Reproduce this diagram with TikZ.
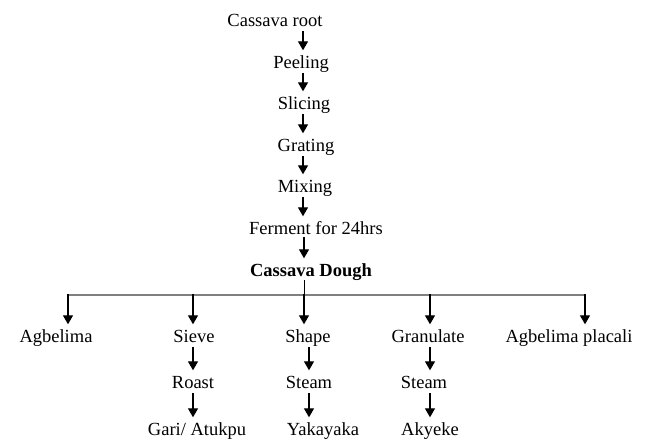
\documentclass[tikz,border=0pt]{standalone}
\usepackage{fontspec}
\setmainfont{Liberation Serif}
\usetikzlibrary{arrows.meta}
\begin{document}
\begin{tikzpicture}[x=1pt,y=-1pt,
  lbl/.style={inner xsep=0pt,inner ysep=0pt,text height=12.5pt,text depth=4pt,anchor=base,font=\fontsize{18.5}{22}\selectfont},
  arr/.style={line width=1.3pt,-{Triangle[width=10pt,length=9pt]},shorten >=5pt,shorten <=1pt},
  bar/.style={line width=1.6pt,draw={rgb,255:red,128;green,128;blue,128}},
  stem/.style={line width=0.8pt}]
\useasboundingbox (0,0) rectangle (655,440);
% spine coordinate
\coordinate (spine) at (303,0);
% main chain
\node[lbl] (root) at (275,26) {Cassava root};
\node[lbl] (peel) at (301,68) {Peeling};
\node[lbl] (slice) at (304,109) {Slicing};
\node[lbl] (grate) at (306,151) {Grating};
\node[lbl] (mix) at (305,192) {Mixing};
\node[lbl] (ferm) at (316,234) {Ferment for 24hrs};
\node[lbl,font=\fontsize{18.5}{22}\selectfont\bfseries] (dough) at (311,276) {Cassava Dough};
% branches row 1
\node[lbl] (agb) at (56,342) {Agbelima};
\node[lbl] (sieve) at (194,342) {Sieve};
\node[lbl] (shape) at (308,342) {Shape};
\node[lbl] (gran) at (428,342) {Granulate};
\node[lbl] (plac) at (569,342) {Agbelima placali};
% row 2
\node[lbl] (roast) at (193,388) {Roast};
\node[lbl] (steamA) at (309,388) {Steam};
\node[lbl] (steamB) at (424,388) {Steam};
% row 3
\node[lbl] (gari) at (197,435) {Gari/ Atukpu};
\node[lbl] (yaka) at (323,435) {Yakayaka};
\node[lbl] (akye) at (430,435) {Akyeke};
% bar coordinates
\coordinate (bL) at (68,295);
\coordinate (bS) at (193,295);
\coordinate (bM) at (304,295);
\coordinate (bG) at (430,295);
\coordinate (bR) at (585,295);
\coordinate (cS) at (309,0);
% chain arrows
\draw[arr] (root.south -| spine) -- (peel.north -| spine);
\draw[arr] (peel.south -| spine) -- (slice.north -| spine);
\draw[arr] (slice.south -| spine) -- (grate.north -| spine);
\draw[arr] (grate.south -| spine) -- (mix.north -| spine);
\draw[arr] (mix.south -| spine) -- (ferm.north -| spine);
\draw[arr,shorten <=-1pt] (ferm.south -| bM) -- (dough.north -| bM);
% stem and bar
\draw[stem] (dough.south -| bM) -- (bM);
\draw[bar] (bL) -- (bR);
% branch arrows
\draw[arr,shorten <=-0.8pt] (bL) -- (bL |- agb.north);
\draw[arr,shorten <=-0.8pt] (bS) -- (bS |- sieve.north);
\draw[arr,shorten <=-0.8pt] (bM) -- (bM |- shape.north);
\draw[arr,shorten <=-0.8pt] (bG) -- (bG |- gran.north);
\draw[arr,shorten <=-0.8pt] (bR) -- (bR |- plac.north);
% second level
\draw[arr] (sieve.south -| bS) -- (roast.north -| bS);
\draw[arr] (roast.south -| bS) -- (gari.north -| bS);
\draw[arr] (shape.south -| cS) -- (steamA.north -| cS);
\draw[arr] (steamA.south -| cS) -- (yaka.north -| cS);
\draw[arr] (gran.south -| bG) -- (steamB.north -| bG);
\draw[arr] (steamB.south -| bG) -- (akye.north -| bG);
\end{tikzpicture}
\end{document}
